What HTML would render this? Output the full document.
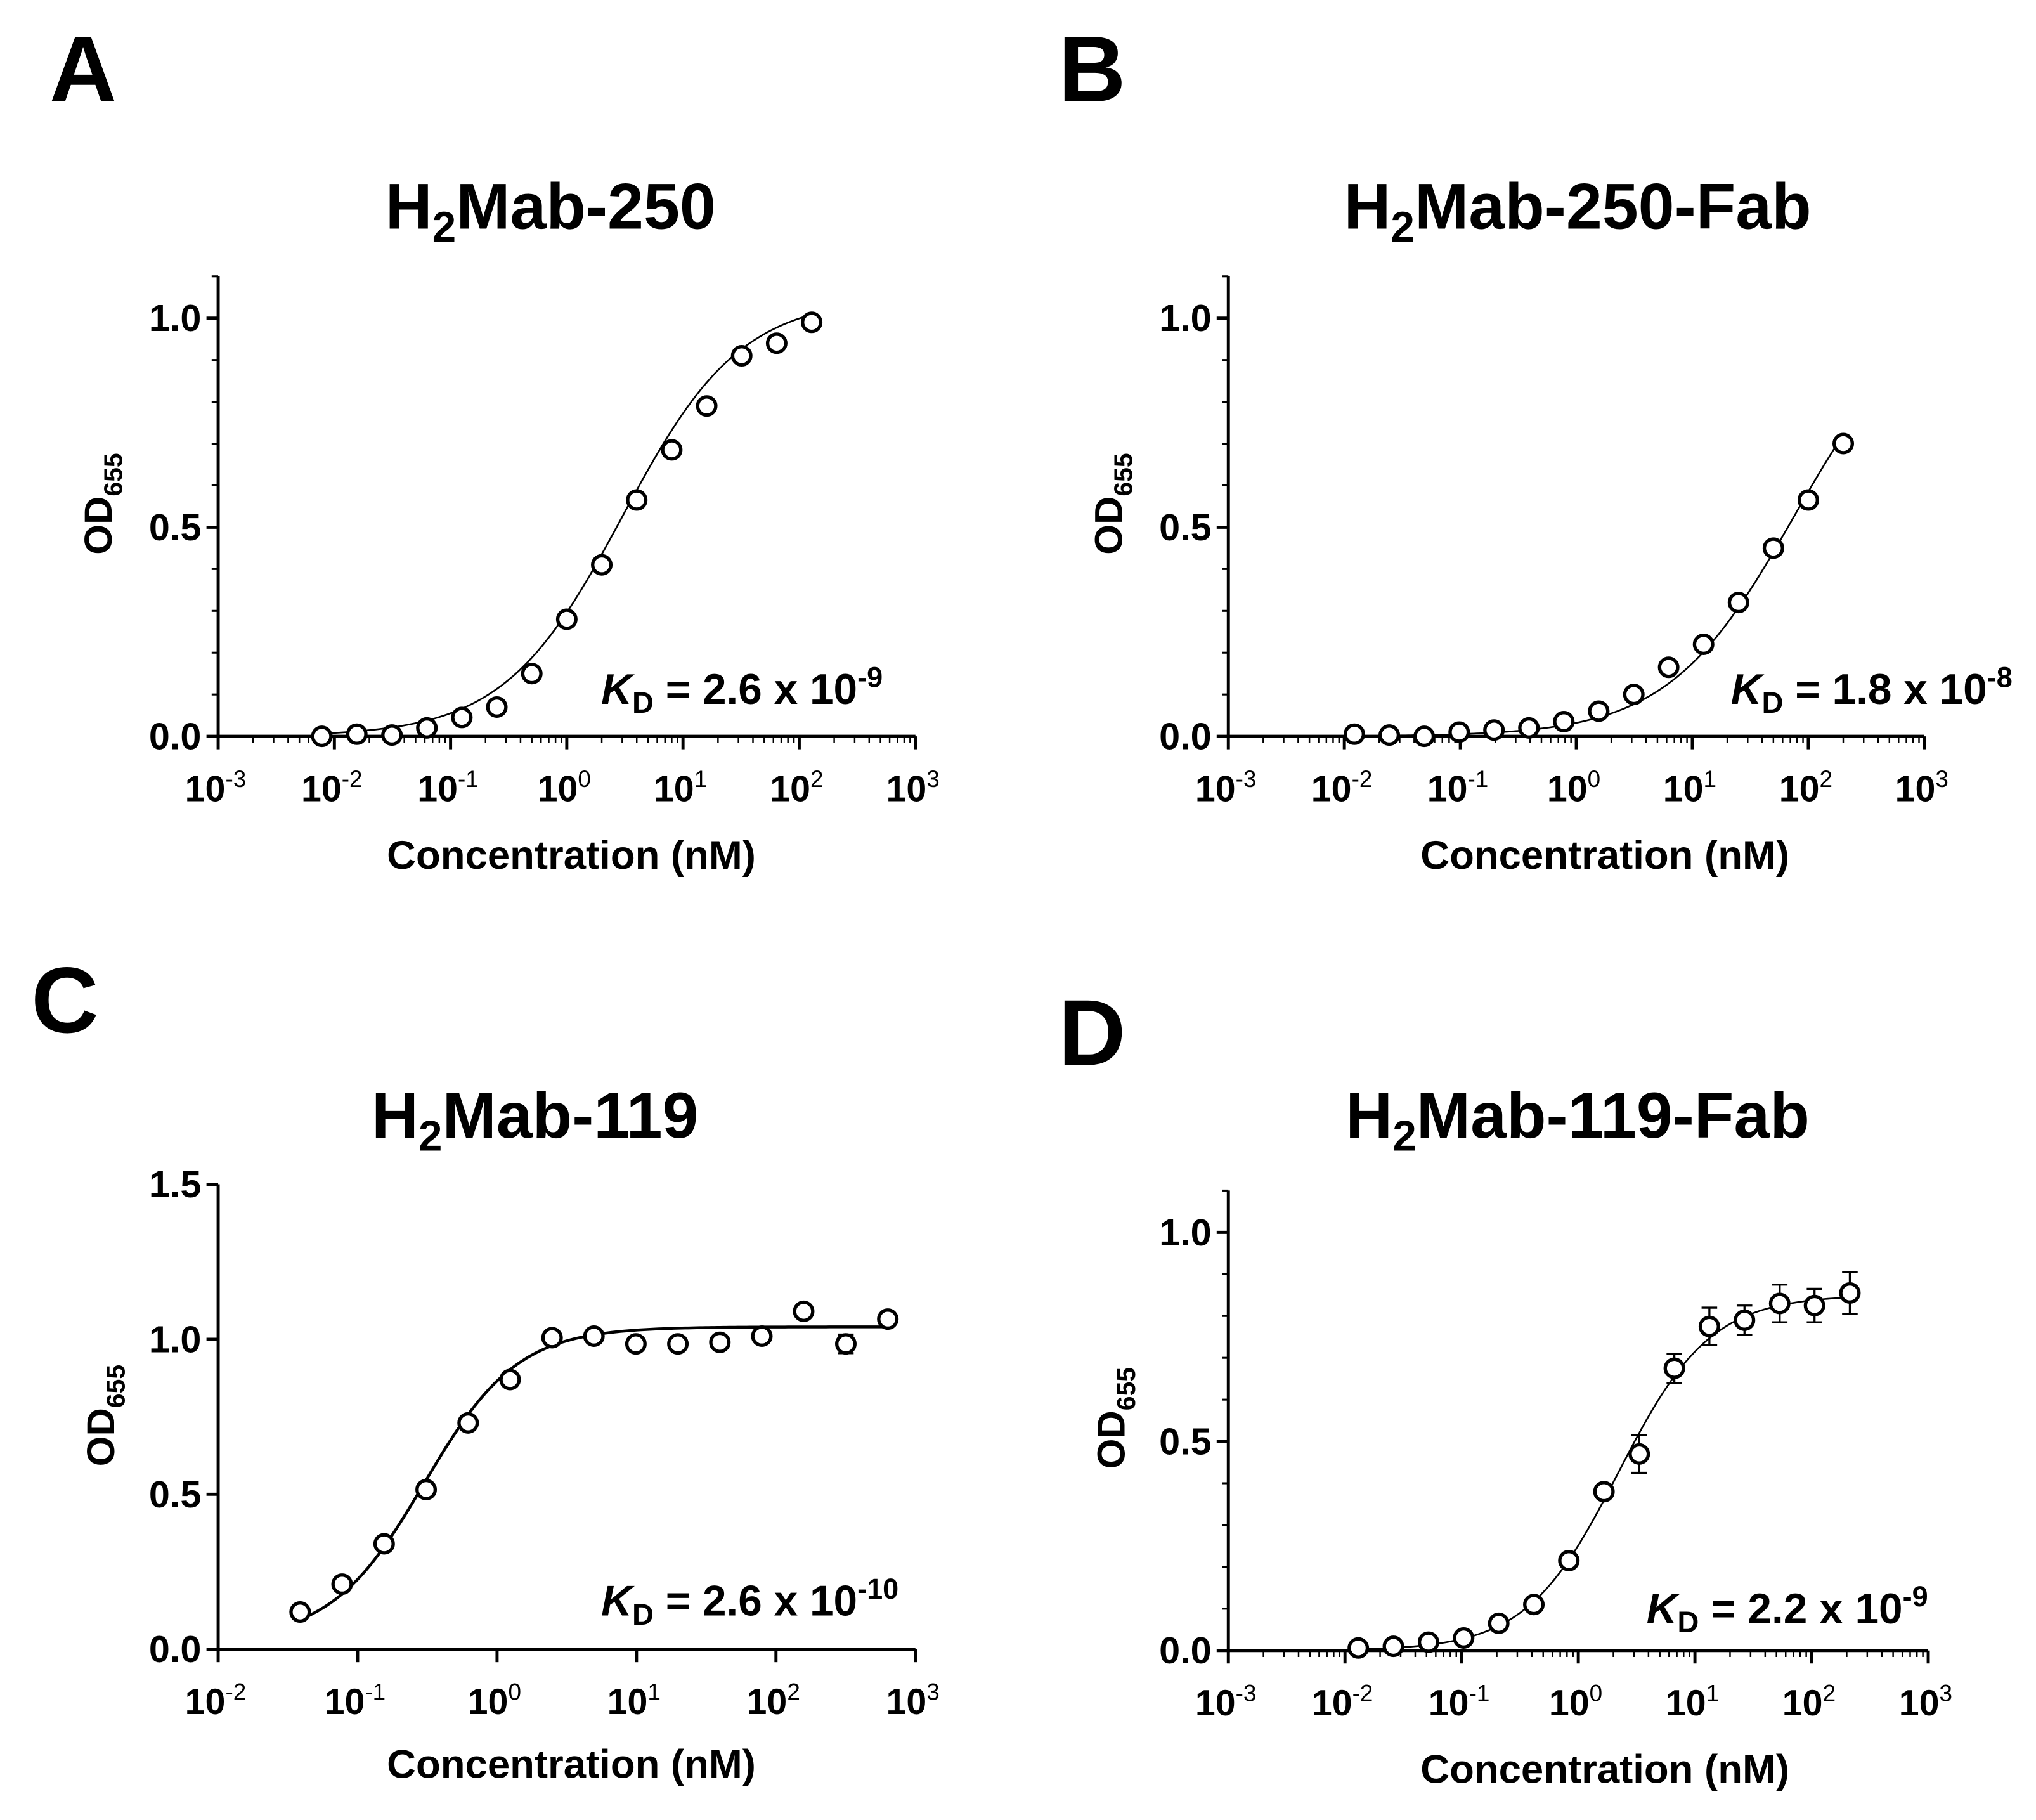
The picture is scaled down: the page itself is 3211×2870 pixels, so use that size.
<!DOCTYPE html>
<html><head><meta charset="utf-8"><style>
html,body{margin:0;padding:0;background:#fff;}
svg{display:block;font-family:"Liberation Sans",Arial,sans-serif;font-weight:bold;}
</style></head><body>
<svg id="fig" width="3211" height="2870" viewBox="0 0 1568 1401.5" xmlns="http://www.w3.org/2000/svg"></svg>
<script>
// ---- data (concentration nM, OD655) ----
const concA = [0.0078,0.0156,0.0313,0.0625,0.125,0.25,0.5,1,2,4,8,16,32,64,128];
const odA   = [0.0,0.005,0.003,0.02,0.045,0.07,0.15,0.28,0.41,0.565,0.685,0.79,0.91,0.94,0.99];
const fitA  = [0, 1.05, 3.0, 0.85];   // bottom, top, EC50, hill

const concB = [0.0122,0.0244,0.0488,0.0977,0.195,0.39,0.78,1.56,3.13,6.25,12.5,25,50,100,200];
const odB   = [0.005,0.003,0.0,0.01,0.015,0.02,0.035,0.06,0.1,0.165,0.22,0.32,0.45,0.565,0.70];
const fitB  = [0, 1.05, 75, 0.8];

const concC = [0.0387,0.0774,0.155,0.31,0.62,1.24,2.48,4.95,9.9,19.8,39.6,79.2,158,317,634];
const odC   = [0.12,0.21,0.34,0.515,0.73,0.87,1.005,1.01,0.985,0.985,0.99,1.01,1.09,0.985,1.065];
const errC  = [0,0,0,0,0,0,0,0,0,0.02,0,0,0,0.03,0];
const fitC  = [0.03, 1.04, 0.3, 1.3];

const concD = [0.013,0.026,0.052,0.104,0.208,0.416,0.83,1.66,3.33,6.66,13.3,26.6,53.3,106,213];
const odD   = [0.006,0.01,0.02,0.03,0.065,0.11,0.215,0.38,0.47,0.675,0.775,0.79,0.83,0.825,0.855];
const errD  = [0.005,0.005,0.005,0.005,0.008,0.01,0.01,0.015,0.045,0.035,0.045,0.035,0.045,0.04,0.05];
const fitD  = [0, 0.85, 2.2, 1.1];

const xTickExpAB = [-3,-2,-1,0,1,2,3];
const xTickExpC  = [-2,-1,0,1,2,3];
const yTicksAB = [0,0.5,1.0];
const yTicksC  = [0,0.5,1.0,1.5];

const NS="http://www.w3.org/2000/svg";
const svg=document.getElementById('fig');
function mk(tag,attrs,parent){const e=document.createElementNS(NS,tag);for(const k in attrs)e.setAttribute(k,attrs[k]);(parent||svg).appendChild(e);return e;}

const panels=[
 {id:'a',letter:'A',lx:38,ly:78,title:'Mab-250',tx:424,ty:176,x0:168,x1:705,xmin:-3,xmax:3,y0:567,yUnit:322,ymaxAxis:1.1,yt:yTicksAB,xt:xTickExpAB,minor:true,conc:concA,od:odA,err:null,fit:fitA,kd:['2.6 x 10','-9'],kx:463,ky:542,ytx:86,yty:388,xtx:440,xty:669,curveW:1.3},
 {id:'b',letter:'B',lx:815,ly:78,title:'Mab-250-Fab',tx:1215,ty:176,x0:946,x1:1482,xmin:-3,xmax:3,y0:567,yUnit:322,ymaxAxis:1.1,yt:yTicksAB,xt:xTickExpAB,minor:true,conc:concB,od:odB,err:null,fit:fitB,kd:['1.8 x 10','-8'],kx:1333,ky:542,ytx:864,yty:388,xtx:1236,xty:669,curveW:1.3},
 {id:'c',letter:'C',lx:24,ly:795,title:'Mab-119',tx:412,ty:876,x0:168,x1:705,xmin:-2,xmax:3,y0:1270,yUnit:238.7,ymaxAxis:1.5,yt:yTicksC,xt:xTickExpC,minor:false,conc:concC,od:odC,err:errC,fit:fitC,kd:['2.6 x 10','-10'],kx:463,ky:1244,ytx:88,yty:1090,xtx:440,xty:1369,curveW:2.2},
 {id:'d',letter:'D',lx:815,ly:820,title:'Mab-119-Fab',tx:1215,ty:876,x0:946,x1:1485,xmin:-3,xmax:3,y0:1271,yUnit:322,ymaxAxis:1.1,yt:yTicksAB,xt:xTickExpAB,minor:true,conc:concD,od:odD,err:errD,fit:fitD,kd:['2.2 x 10','-9'],kx:1268,ky:1250,ytx:866,yty:1092,xtx:1236,xty:1373,curveW:1.3}
];

panels.forEach(p=>{
 const g=mk('g',{});
 
 
 const X=c=>p.x0+(Math.log10(c)-p.xmin)/(p.xmax-p.xmin)*(p.x1-p.x0);
 const Y=v=>p.y0-v*p.yUnit;
 const L=mk('text',{x:p.lx,y:p.ly,'font-size':72},g);L.textContent=p.letter;
 
 
 const T=mk('text',{x:p.tx,y:p.ty,'font-size':50,'text-anchor':'middle'},g);
 
 
 mk('tspan',{},T).textContent='H';
 mk('tspan',{dy:10,'font-size':33},T).textContent='2';
 mk('tspan',{dy:-10},T).textContent=p.title;
 const ax=mk('g',{stroke:'#000','stroke-width':2.4,fill:'none'},g);
 
 
 mk('line',{x1:p.x0,y1:Y(p.ymaxAxis),x2:p.x0,y2:p.y0+1.2},ax);
 mk('line',{x1:p.x0-1.2,y1:p.y0,x2:p.x1,y2:p.y0},ax);
 p.yt.forEach(v=>{
   mk('line',{x1:p.x0-9,y1:Y(v),x2:p.x0,y2:Y(v)},ax);
   const t=mk('text',{x:p.x0-13,y:Y(v)+10,'font-size':29,'text-anchor':'end',fill:'#000',stroke:'none'},g);
   t.textContent=v.toFixed(1);
   
   
 });
 if(p.minor){
   for(let v=0.1;v<p.ymaxAxis+0.001;v+=0.1){ if(Math.abs(v-Math.round(v*2)/2)<0.01)continue; mk('line',{x1:p.x0-5,y1:Y(v),x2:p.x0,y2:Y(v),'stroke-width':1.5},ax);}
 }
 p.xt.forEach((e,i)=>{
   const x=X(Math.pow(10,e));
   mk('line',{x1:x,y1:p.y0,x2:x,y2:p.y0+10},ax);
   if(p.minor && i<p.xt.length-1){for(let m=2;m<10;m++){const xm=X(m*Math.pow(10,e));mk('line',{x1:xm,y1:p.y0,x2:xm,y2:p.y0+5,'stroke-width':1.2},ax);}}
   const t=mk('text',{x:x-2,y:p.y0+50,'font-size':28,'text-anchor':'middle'},g);
   
   
   mk('tspan',{},t).textContent='10';
   mk('tspan',{dy:-11,'font-size':18,'font-weight':'normal'},t).textContent=String(e);
 });
 const xt=mk('text',{x:p.xtx,y:p.xty,'font-size':31,'text-anchor':'middle'},g);xt.textContent='Concentration (nM)';
 
 
 const yt=mk('text',{x:0,y:0,'font-size':30,'text-anchor':'middle',transform:`translate(${p.ytx},${p.yty}) rotate(-90)`},g);
 
 
 mk('tspan',{},yt).textContent='OD';
 mk('tspan',{dy:8,'font-size':20},yt).textContent='655';
 const [b,top,ec,h]=p.fit;
 let d='';const lo=Math.log10(p.conc[0]),hi=Math.log10(p.conc[p.conc.length-1]);
 for(let i=0;i<=200;i++){const lc=lo+(hi-lo)*i/200,c=Math.pow(10,lc);const v=b+(top-b)/(1+Math.pow(ec/c,h));d+=(i?'L':'M')+X(c).toFixed(2)+','+Y(v).toFixed(2);}
 const cv=mk('path',{d:d,fill:'none',stroke:'#000','stroke-width':p.curveW},g);
 
 
 if(p.err){p.err.forEach((e,i)=>{if(e<=0.012)return;const x=X(p.conc[i]);const eb=mk('path',{d:`M${x},${Y(p.od[i]+e)}V${Y(p.od[i]-e)}M${x-6},${Y(p.od[i]+e)}h12M${x-6},${Y(p.od[i]-e)}h12`,stroke:'#000','stroke-width':1.6,fill:'none'},g);
   
   });}
 p.conc.forEach((c,i)=>{const pt=mk('circle',{cx:X(c),cy:Y(p.od[i]),r:7,fill:'#fff',stroke:'#000','stroke-width':2.6},g);
   
   });
 const k=mk('text',{x:p.kx,y:p.ky,'font-size':33},g);
 
 
 mk('tspan',{'font-style':'italic'},k).textContent='K';
 mk('tspan',{dy:7,'font-size':23},k).textContent='D';
 mk('tspan',{dy:-7},k).textContent=' = '+p.kd[0];
 mk('tspan',{dy:-13,'font-size':22},k).textContent=p.kd[1];
});
</script>
</body></html>
